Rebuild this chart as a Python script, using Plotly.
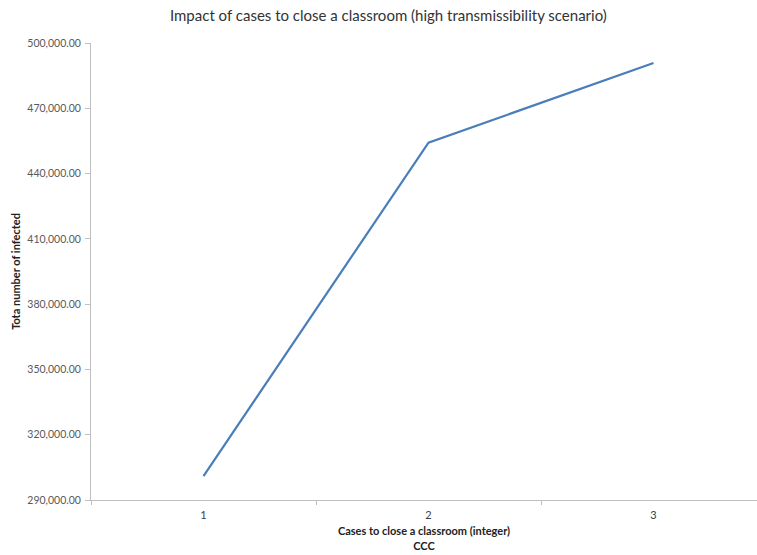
import plotly.graph_objects as go

categories = ["1", "2", "3"]
infected = [301000, 454200, 490800]

fig = go.Figure()
fig.add_trace(go.Scatter(
    x=categories, y=infected, mode="lines",
    line=dict(color="#4a7ebb", width=2.2),
    showlegend=False,
))

fig.update_layout(
    width=757, height=555,
    margin=dict(l=91, r=0, t=43, b=55),
    paper_bgcolor="white", plot_bgcolor="white",
    font=dict(family="Lato, 'Open Sans', sans-serif", color="#404040"),
    title=dict(
        text="Impact of cases to close a classroom (high transmissibility scenario)",
        x=0.513, xanchor="center", y=0.972, yanchor="middle",
        font=dict(size=15, color="#333333"),
    ),
    xaxis=dict(
        type="category", range=[-0.5, 2.46],
        showline=True, linecolor="#bfbfbf", linewidth=1,
        ticks="outside", tickson="boundaries", ticklen=4, tickcolor="#bfbfbf",
        showgrid=False, zeroline=False,
        ticklabelstandoff=5,
        tickfont=dict(size=11, color="#404040"),
        title=dict(
            text="<b>Cases to close a classroom (integer)<br>CCC</b>",
            font=dict(size=11, color="#222222"), standoff=7,
        ),
    ),
    yaxis=dict(
        range=[290000, 500000], dtick=30000, tick0=290000,
        tickformat=",.2f",
        showline=True, linecolor="#bfbfbf", linewidth=1,
        ticks="outside", ticklen=5, tickcolor="#bfbfbf",
        showgrid=False, zeroline=False,
        ticklabelstandoff=2,
        tickfont=dict(size=10.5, color="#595959"),
        title=dict(
            text="<b>Tota number of infected</b>",
            font=dict(size=11, color="#222222"), standoff=4,
        ),
    ),
)

fig.write_html("out.html")
